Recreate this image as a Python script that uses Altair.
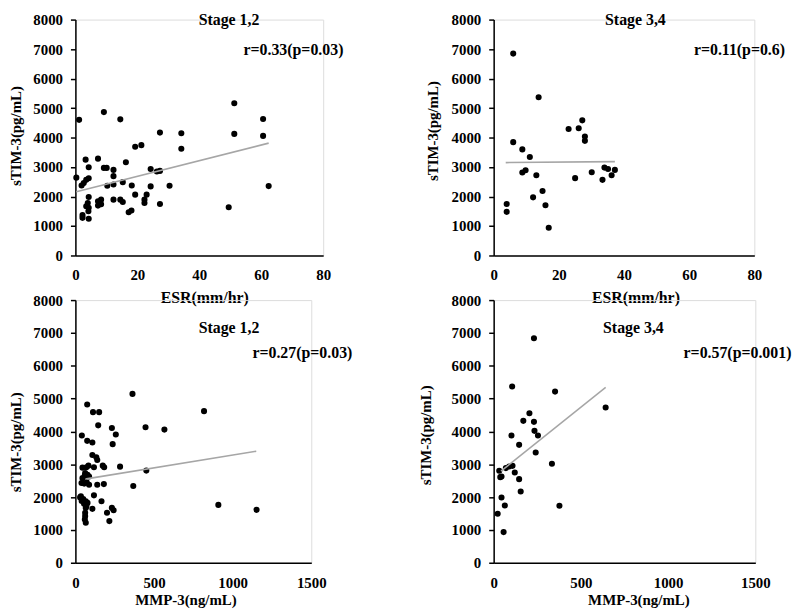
import altair as alt
import pandas as pd

FONT = "Liberation Serif"

# ---- Top-left: ESR vs sTIM-3, Stage 1,2 ----
esr12_x = [0.3, 1.2, 3.3, 4.3, 4.3, 3.5, 2.7, 2.0, 4.3, 4.0, 3.5, 4.3, 4.2, 2.3, 2.3, 4.3,
           7.3, 7.3, 7.3, 8.3, 8.3, 9.2, 9.2, 10.1, 10.3, 12.3, 12.3, 12.3, 12.3, 14.5,
           15.3, 14.5, 15.3, 16.3, 17.2, 18.1, 18.2, 19.3, 19.3, 21.3, 22.3, 22.3, 23.0,
           24.3, 24.3, 26.3, 27.3, 27.3, 27.3, 30.4, 34.2, 34.2, 49.5, 51.3, 51.3, 60.6,
           60.6, 62.4]
esr12_y = [2640, 4600, 3250, 2990, 2620, 2565, 2455, 2375, 1985, 1780, 1670, 1615, 1500,
           1367, 1277, 1244, 3283, 1838, 1692, 1893, 1737, 4863, 2970, 2970, 2364, 2902,
           2690, 2409, 1893, 4616, 2487, 1893, 1815, 3160, 1468, 1524, 2375, 3686, 2062,
           3742, 1893, 1780, 2062, 2935, 2342, 2846, 2868, 4168, 1748, 2364, 4146, 3619,
           1636, 5165, 4123, 4627, 4056, 2353]
esr12_line_x = [0.3, 62.4]
esr12_line_y = [2162, 3810]

# ---- Top-right: ESR vs sTIM-3, Stage 3,4 ----
esr34_x = [6.0, 13.8, 6.0, 8.8, 11.1, 8.8, 9.8, 13.1, 4.0, 4.0, 12.1, 15.0, 15.9, 16.9,
           23.0, 26.1, 27.2, 28.0, 28.0, 25.0, 30.1, 33.4, 34.0, 35.1, 36.2, 37.2]
esr34_y = [6847, 5368, 3843, 3597, 3338, 2813, 2890, 2723, 1748, 1479, 1972, 2185, 1703,
           941, 4291, 4313, 4583, 4034, 3888, 2622, 2823, 2565, 2980, 2935, 2723, 2902]
esr34_line_x = [3.7, 37.2]
esr34_line_y = [3150, 3183]

# ---- Bottom-left: MMP-3 vs sTIM-3, Stage 1,2 ----
mmp12_x = [363, 75, 112, 151, 145, 232, 257, 237, 446, 566, 818, 41, 75, 108, 108, 133,
           139, 45, 70, 83, 118, 174, 183, 284, 451, 62, 77, 45, 87, 39, 56, 87, 72, 139,
           181, 368, 35, 50, 66, 30, 77, 118, 166, 108, 66, 62, 62, 60, 66, 201, 232, 243,
           216, 909, 1152, 40, 55, 70, 60]
mmp12_y = [5142, 4819, 4587, 4587, 4185, 4104, 3904, 3612, 4125, 4055, 4617, 3874, 3712,
           3663, 3280, 3210, 3129, 2897, 2909, 2957, 2909, 2957, 2909, 2927, 2806, 2728,
           2677, 2577, 2625, 2430, 2410, 2375, 2450, 2375, 2396, 2336, 2022, 1943, 1871,
           1990, 1822, 2052, 1871, 1641, 1670, 1521, 1419, 1319, 1219, 1521, 1671, 1600,
           1268, 1762, 1611, 1880, 1800, 1720, 2660]
mmp12_line_x = [70, 1150]
mmp12_line_y = [2555, 3395]

# ---- Bottom-right: MMP-3 vs sTIM-3, Stage 3,4 ----
mmp34_x = [231, 106, 352, 205, 170, 231, 234, 254, 102, 146, 241, 334, 32, 45, 38, 70,
           89, 108, 121, 146, 155, 45, 64, 23, 57, 377, 642]
mmp34_y = [6838, 5366, 5213, 4555, 4321, 4291, 4017, 3874, 3874, 3591, 3357, 3013, 2800,
           2627, 2607, 2882, 2931, 2952, 2748, 2546, 2170, 1988, 1744, 1491, 934, 1735,
           4728]
mmp34_line_x = [42, 642]
mmp34_line_y = [2790, 5340]

y_ticks = [0, 1000, 2000, 3000, 4000, 5000, 6000, 7000, 8000]
esr_ticks = [0, 20, 40, 60, 80]
mmp_ticks = [0, 500, 1000, 1500]
y_title = "sTIM-3(pg/mL)"
stage_titles = ["Stage 1,2", "Stage 3,4", "Stage 1,2", "Stage 3,4"]
r_texts = ["r=0.33(p=0.03)", "r=0.11(p=0.6)", "r=0.27(p=0.03)", "r=0.57(p=0.001)"]
x_titles = ["ESR(mm/hr)", "ESR(mm/hr)", "MMP-3(ng/mL)", "MMP-3(ng/mL)"]


def panel(xs, ys, lx, ly, xticks, xtitle, stage, rtext, w, h,
          tx, ty, ax, ay, ytx, yty, xtx, xty, xlp, xtfs):
    xmax = xticks[-1]
    xaxis = alt.Axis(values=xticks, format="d", ticks=False, labelPadding=xlp,
                     labelFlush=False, domainColor="black", domainWidth=1.5,
                     labelFont=FONT, labelFontSize=15, labelFontWeight="bold",
                     labelColor="black", title=xtitle, titleFont=FONT,
                     titleFontSize=xtfs, titleFontWeight="bold", titleColor="black",
                     titleX=xtx, titleY=xty, titleAlign="center",
                     titleBaseline="middle", grid=False)
    yaxis = alt.Axis(values=y_ticks, format="d", tickSize=5, tickColor="black",
                     tickWidth=1.5, labelPadding=8, labelFlush=False,
                     domainColor="black", domainWidth=1.5, labelFont=FONT,
                     labelFontSize=15, labelFontWeight="bold", labelColor="black",
                     title=y_title, titleFont=FONT, titleFontSize=15,
                     titleFontWeight="bold", titleColor="black", titleX=ytx,
                     titleY=yty, titleAngle=-90, titleAlign="center",
                     titleBaseline="middle", grid=False)
    xs_ = alt.Scale(domain=[0, xmax], nice=False)
    ys_ = alt.Scale(domain=[0, 8000], nice=False)
    pts = alt.Chart(pd.DataFrame({"x": xs, "y": ys})).mark_circle(
        size=38, color="black", opacity=1
    ).encode(
        x=alt.X("x:Q", scale=xs_, axis=xaxis),
        y=alt.Y("y:Q", scale=ys_, axis=yaxis),
    )
    line = alt.Chart(pd.DataFrame({"x": lx, "y": ly})).mark_line(
        color="#a6a6a6", strokeWidth=1.6
    ).encode(
        x=alt.X("x:Q", scale=xs_, axis=xaxis),
        y=alt.Y("y:Q", scale=ys_, axis=yaxis),
    )
    t1 = alt.Chart(pd.DataFrame({"t": [stage]})).mark_text(
        font=FONT, fontSize=16, fontWeight="bold", color="black",
        align="center", baseline="middle"
    ).encode(x=alt.value(tx), y=alt.value(ty), text="t:N")
    t2 = alt.Chart(pd.DataFrame({"t": [rtext]})).mark_text(
        font=FONT, fontSize=16, fontWeight="bold", color="black",
        align="center", baseline="middle"
    ).encode(x=alt.value(ax), y=alt.value(ay), text="t:N")
    return alt.layer(pts, line, t1, t2).properties(width=w, height=h)


tl = panel(esr12_x, esr12_y, esr12_line_x, esr12_line_y, esr_ticks, x_titles[0],
           stage_titles[0], r_texts[0], 250, 238,
           155, 0, 220, 31, -60, 117, 130, 42, 12, 16)
tr = panel(esr34_x, esr34_y, esr34_line_x, esr34_line_y, esr_ticks, x_titles[1],
           stage_titles[1], r_texts[1], 263, 238,
           143, 0, 248, 31, -62, 112, 143, 42, 12, 16)
bl = panel(mmp12_x, mmp12_y, mmp12_line_x, mmp12_line_y, mmp_ticks, x_titles[2],
           stage_titles[2], r_texts[2], 238, 265,
           155, 28, 229, 53, -60, 143, 111, 37, 13, 15)
br = panel(mmp34_x, mmp34_y, mmp34_line_x, mmp34_line_y, mmp_ticks, x_titles[3],
           stage_titles[3], r_texts[3], 264, 265,
           141, 28, 246, 53, -69, 136, 146, 37, 13, 15)

chart = alt.concat(
    tl, tr, bl, br, columns=2,
    spacing={"row": 45, "column": 172},
    bounds="flush", align="each",
).properties(
    padding={"left": 0, "top": 0, "right": 0, "bottom": 0}
).configure_view(stroke=None).configure(background="white")

chart.save("out.html", embed_options={"renderer": "svg", "actions": False})
